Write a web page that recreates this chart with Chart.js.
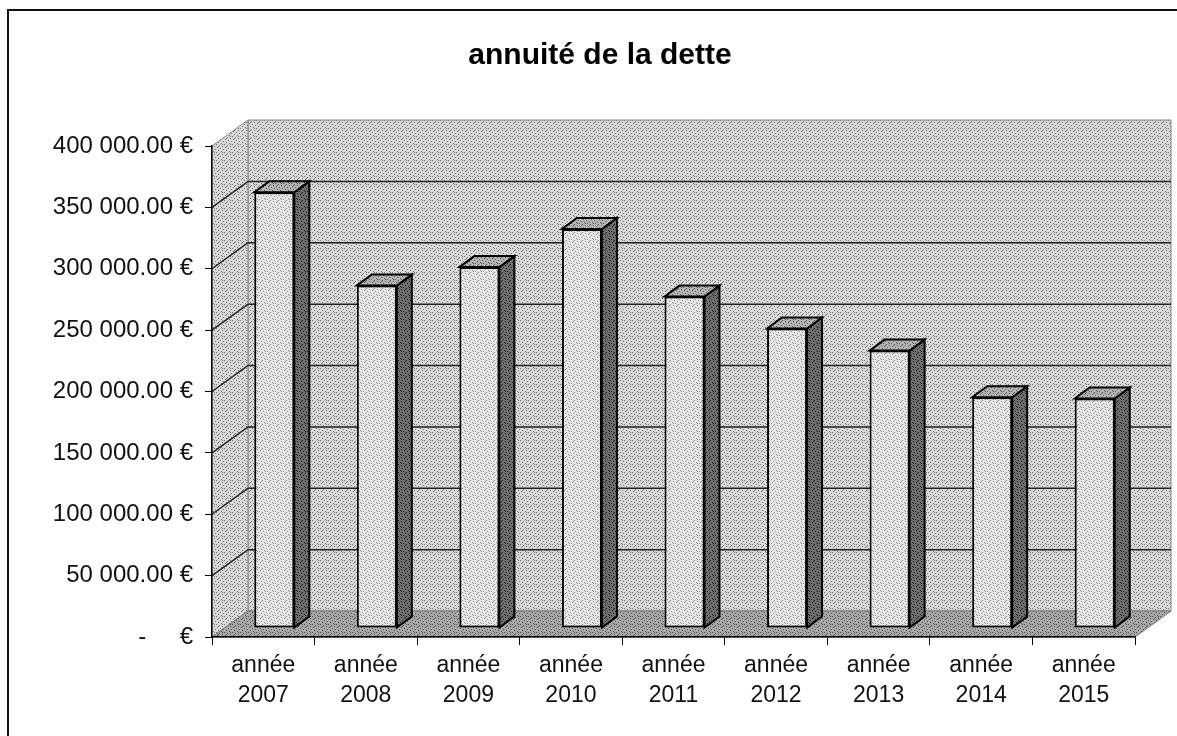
<!DOCTYPE html>
<html>
<head>
<meta charset="utf-8">
<script src="https://cdn.jsdelivr.net/npm/chart.js@4/dist/chart.umd.min.js"></script>
<style>
  html, body { margin: 0; background: #fff; }
  #wrap { width: 1177px; height: 736px; }
</style>
</head>
<body>
<div id="wrap"><canvas id="detteChart"></canvas></div>
<script>
// Data
const categories = [
  ["année", "2007"], ["année", "2008"], ["année", "2009"],
  ["année", "2010"], ["année", "2011"], ["année", "2012"],
  ["année", "2013"], ["année", "2014"], ["année", "2015"],
];
const annuites = [355000, 279000, 294000, 325000, 270000, 244000, 226000, 188000, 187000];
const yTickValues = [0, 50000, 100000, 150000, 200000, 250000, 300000, 350000, 400000];
const yTickLabels = [
  "-     €", "50 000.00 €", "100 000.00 €", "150 000.00 €", "200 000.00 €",
  "250 000.00 €", "300 000.00 €", "350 000.00 €", "400 000.00 €",
];

// 3D look: wall depth and bar offset/depth in px
const WALL = { dx: 36, dy: -26 };
const BAR_SHIFT = { dx: 11, dy: -9 };
const BAR_DEPTH = { dx: 15, dy: -11 };

const ctx = document.getElementById("detteChart").getContext("2d");

// Stippled fills, like the scanned greys
const stipple = (base, dot) => {
  const c = document.createElement("canvas");
  c.width = c.height = 8;
  const g = c.getContext("2d");
  g.fillStyle = base;
  g.fillRect(0, 0, 8, 8);
  g.fillStyle = dot;
  [[0, 0], [3, 1], [6, 2], [1, 3], [4, 4], [7, 5], [2, 6], [5, 7], [6, 0], [2, 2]]
    .forEach(([x, y]) => g.fillRect(x, y, 1, 1));
  return ctx.createPattern(c, "repeat");
};
const wallFill = stipple("#dadada", "#6a6a6a");
const floorFill = stipple("#a9a9a9", "#4a4a4a");
const frontFill = stipple("#e6e6e6", "#8a8a8a");
const sideFill = stipple("#6e6e6e", "#1e1e1e");
const topFill = stipple("#b4b4b4", "#555555");

const poly = (c, pts, fill, stroke, lw) => {
  c.beginPath();
  pts.forEach(([x, y], i) => (i ? c.lineTo(x, y) : c.moveTo(x, y)));
  c.closePath();
  if (fill) { c.fillStyle = fill; c.fill(); }
  if (stroke) { c.strokeStyle = stroke; c.lineWidth = lw; c.stroke(); }
};

const walls3d = {
  id: "walls3d",
  afterLayout(chart) {
    // let the y labels use the space left of the title box
    const y = chart.scales.y;
    y.left = 20;
    y.width = y.right - y.left;
  },
  beforeDraw(chart) {
    const { ctx: c, chartArea: a, scales: { y } } = chart;
    const { dx, dy } = WALL;
    c.save();
    // page frame
    c.strokeStyle = "#111";
    c.lineWidth = 2;
    c.beginPath();
    c.moveTo(8, 736); c.lineTo(8, 10); c.lineTo(1177, 10);
    c.stroke();
    // back wall, side wall, floor
    poly(c, [[a.left + dx, a.top + dy], [a.right + dx, a.top + dy],
      [a.right + dx, a.bottom + dy], [a.left + dx, a.bottom + dy]], wallFill, "#888", 1);
    poly(c, [[a.left, a.top], [a.left + dx, a.top + dy],
      [a.left + dx, a.bottom + dy], [a.left, a.bottom]], wallFill, "#888", 1);
    poly(c, [[a.left, a.bottom], [a.left + dx, a.bottom + dy],
      [a.right + dx, a.bottom + dy], [a.right, a.bottom]], floorFill, "#777", 1);
    // gridlines on the walls
    c.strokeStyle = "#222";
    c.lineWidth = 1.5;
    yTickValues.forEach((v) => {
      if (v === 0 || v === 400000) return;
      const py = y.getPixelForValue(v);
      c.beginPath();
      c.moveTo(a.left, py);
      c.lineTo(a.left + dx, py + dy);
      c.lineTo(a.right + dx, py + dy);
      c.stroke();
    });
    c.restore();
  },
  beforeDatasetsDraw(chart) {
    const c = chart.ctx;
    c.save();
    c.translate(BAR_SHIFT.dx, BAR_SHIFT.dy);
    const { dx, dy } = BAR_DEPTH;
    chart.getDatasetMeta(0).data.forEach((bar) => {
      const l = bar.x - bar.width / 2, r = bar.x + bar.width / 2;
      const t = bar.y, b = bar.base;
      poly(c, [[r, t], [r + dx, t + dy], [r + dx, b + dy], [r, b]], sideFill, "#000", 2);
      poly(c, [[l, t], [l + dx, t + dy], [r + dx, t + dy], [r, t]], topFill, "#000", 2);
    });
  },
  afterDatasetsDraw(chart) {
    chart.ctx.restore();
  },
};

const fontFamily = "'Liberation Sans', Arial, sans-serif";

new Chart(ctx, {
  type: "bar",
  data: {
    labels: categories,
    datasets: [{
      label: "annuité de la dette",
      data: annuites,
      backgroundColor: frontFill,
      borderColor: "#000",
      borderWidth: 2,
      borderSkipped: false,
      categoryPercentage: 1,
      barPercentage: 0.39,
      clip: false,
    }],
  },
  options: {
    responsive: true,
    maintainAspectRatio: false,
    animation: false,
    layout: { padding: { left: 65, right: 42, top: 0, bottom: 0 } },
    plugins: {
      legend: { display: false },
      tooltip: { enabled: false },
      title: {
        display: true,
        text: "annuité de la dette",
        color: "#000",
        font: { family: fontFamily, size: 30, weight: "bold" },
        padding: { top: 38, bottom: 72 },
      },
    },
    scales: {
      x: {
        grid: { offset: true, drawOnChartArea: false, color: "#000", tickLength: 8 },
        border: { color: "#000", width: 1.5 },
        ticks: {
          color: "#111",
          font: { family: fontFamily, size: 23, lineHeight: 1.3 },
          padding: 6,
          maxRotation: 0,
          autoSkip: false,
        },
        afterFit: (s) => { s.height = 99; },
      },
      y: {
        min: 0,
        max: 400000,
        grid: { drawOnChartArea: false, color: "#000", tickLength: 7 },
        border: { color: "#000", width: 1.5 },
        ticks: {
          stepSize: 50000,
          color: "#111",
          font: { family: fontFamily, size: 24 },
          padding: 12,
          callback: (v, i) => yTickLabels[i],
        },
        afterFit: (s) => { s.width = 147; },
      },
    },
  },
  plugins: [walls3d],
});
</script>
</body>
</html>
